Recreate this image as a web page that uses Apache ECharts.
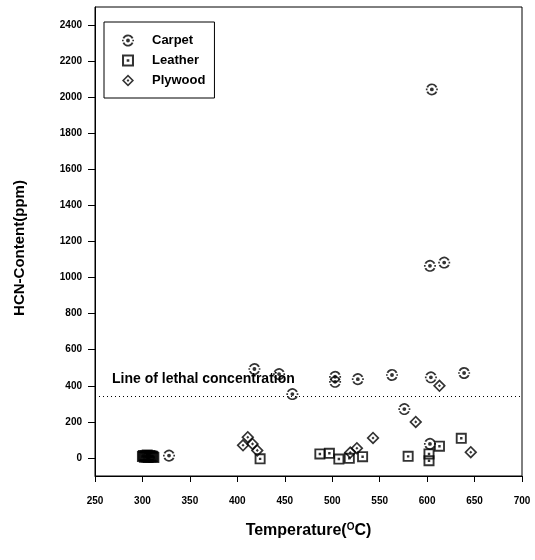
<!DOCTYPE html>
<html>
<head>
<meta charset="utf-8">
<script src="https://cdn.jsdelivr.net/npm/echarts@6/dist/echarts.min.js"></script>
<style>
  html, body { margin: 0; padding: 0; background: #fff; }
  #chart { width: 535px; height: 560px; }
</style>
</head>
<body>
<div id="chart"></div>
<script>
// HCN concentration measured in the smoke of three materials vs. temperature
const seriesNames = ['Carpet', 'Leather', 'Plywood'];

// [temperature °C, HCN ppm]
const carpetData = [
  [328, 13], [418, 493], [444, 465], [458, 354], [503, 450], [503, 422],
  [527, 437], [563, 460], [576, 271], [604, 447], [639, 471], [603, 78],
  [603, 1065], [618, 1083], [605, 2043]
];
const leatherData = [
  [300, 8], [301, 14], [302, 4], [303, 12], [304, 6], [305, 16], [306, 2],
  [307, 10], [308, 14], [309, 5], [310, 11], [311, 8], [312, 3],
  [424, -5], [487, 22], [497, 26], [507, -6], [518, -2], [532, 7],
  [580, 9], [602, 22], [602, -15], [613, 65], [636, 109]
];
const plywoodData = [
  [411, 115], [406, 70], [416, 78], [421, 42], [519, 30], [526, 54],
  [543, 111], [588, 200], [613, 400], [646, 32]
];

const lethalLevel = 340;
const lethalLabel = 'Line of lethal concentration';

const xTicks = [250, 300, 350, 400, 450, 500, 550, 600, 650, 700];
const yTicks = [0, 200, 400, 600, 800, 1000, 1200, 1400, 1600, 1800, 2000, 2200, 2400];

// Marker shapes: outline with a dot in the centre
const carpetSymbol = 'path://M1.47,3.89 A5,5 0 0,1 10.53,3.89 L9.1,4.5 A3.4,3.4 0 0,0 2.9,4.5 Z ' +
  'M10.53,8.11 A5,5 0 0,1 1.47,8.11 L2.9,7.5 A3.4,3.4 0 0,0 9.1,7.5 Z ' +
  'M1,5.3 L2.4,5.3 L2.4,6.7 L1,6.7 Z M9.6,5.3 L11,5.3 L11,6.7 L9.6,6.7 Z ' +
  'M6,4.4 A1.6,1.6 0 1,1 6,7.6 A1.6,1.6 0 1,1 6,4.4 Z';
const leatherSymbol = 'path://M1,1 L11,1 L11,11 L1,11 Z M2.7,2.7 L2.7,9.3 L9.3,9.3 L9.3,2.7 Z M4.9,4.9 L7.1,4.9 L7.1,7.1 L4.9,7.1 Z';
const plywoodSymbol = 'path://M6,0 L12,6 L6,12 L0,6 Z M6,2.2 L2.2,6 L6,9.8 L9.8,6 Z M6,4.6 L7.4,6 L6,7.4 L4.6,6 Z';

const font = 'Liberation Sans, Arial, sans-serif';

const chart = echarts.init(document.getElementById('chart'), null, { renderer: 'canvas' });

chart.setOption({
  backgroundColor: '#fff',
  animation: false,
  grid: {
    left: 95, right: 13, top: 7, bottom: 84,
    show: true, borderColor: '#000', borderWidth: 1, backgroundColor: 'transparent'
  },
  legend: {
    orient: 'vertical',
    left: 104, top: 22,
    padding: [12, 9, 11, 18],
    itemGap: 7,
    itemWidth: 12, itemHeight: 12,
    borderColor: '#000', borderWidth: 1,
    data: seriesNames,
    textStyle: { fontFamily: font, fontWeight: 'bold', fontSize: 13, color: '#000', padding: [0, 0, 0, 13] }
  },
  xAxis: {
    type: 'value',
    min: 250, max: 700, interval: 50,
    name: 'Temperature({sup|O}C)',
    nameLocation: 'middle',
    nameGap: 46,
    nameTextStyle: {
      fontFamily: font, fontWeight: 'bold', fontSize: 16, color: '#000',
      rich: { sup: { fontFamily: font, fontWeight: 'bold', fontSize: 10, color: '#000', verticalAlign: 'top', padding: [0, 0, 8, 0] } }
    },
    axisLine: { show: true, onZero: false, lineStyle: { color: '#000', width: 1 } },
    axisTick: { show: true, inside: false, length: 6, lineStyle: { color: '#000' }, customValues: xTicks },
    axisLabel: { margin: 20, fontFamily: font, fontWeight: 'bold', fontSize: 10, color: '#000', customValues: xTicks },
    splitLine: { show: false }
  },
  yAxis: {
    type: 'value',
    min: -100, max: 2500,
    name: 'HCN-Content(ppm)',
    nameLocation: 'middle',
    nameGap: 68,
    nameTextStyle: { fontFamily: font, fontWeight: 'bold', fontSize: 15, color: '#000', padding: [0, 13, 0, 0] },
    axisLine: { show: true, onZero: false, lineStyle: { color: '#000', width: 1 } },
    axisTick: { show: true, inside: false, length: 7, lineStyle: { color: '#000' }, customValues: yTicks },
    axisLabel: {
      margin: 13, fontFamily: font, fontWeight: 'bold', fontSize: 10, color: '#000',
      customValues: yTicks,
      formatter: function (v) { return String(v); }
    },
    splitLine: { show: false }
  },
  series: [
    {
      name: 'Carpet', type: 'scatter', data: carpetData,
      symbol: carpetSymbol, symbolSize: 12,
      itemStyle: { color: '#000' },
      markLine: {
        silent: true,
        symbol: ['none', 'none'],
        lineStyle: { color: '#000', type: [1, 3], width: 1 },
        label: {
          show: true, position: 'insideStartTop', formatter: lethalLabel,
          distance: [17, 10],
          fontFamily: font, fontWeight: 'bold', fontSize: 14, color: '#000'
        },
        data: [{ yAxis: lethalLevel }]
      }
    },
    {
      name: 'Leather', type: 'scatter', data: leatherData,
      symbol: leatherSymbol, symbolSize: 11,
      itemStyle: { color: '#000' }
    },
    {
      name: 'Plywood', type: 'scatter', data: plywoodData,
      symbol: plywoodSymbol, symbolSize: 13,
      itemStyle: { color: '#000' }
    }
  ]
});
</script>
</body>
</html>
